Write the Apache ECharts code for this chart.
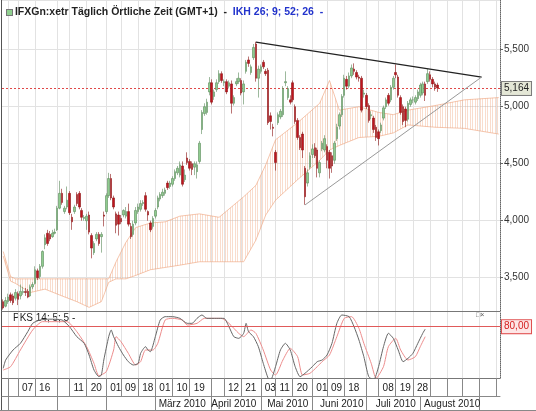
<!DOCTYPE html>
<html>
<head>
<meta charset="utf-8">
<script src="https://cdn.jsdelivr.net/npm/echarts@6/dist/echarts.min.js"></script>
<style>
  html, body { margin: 0; padding: 0; background: #fff; }
  #main { width: 536px; height: 411px; }
</style>
</head>
<body>
<div id="main"></div>
<script>
// Tageskerzen IFX (Xetra): [open, close, low, high]
var candles = [
  [3.29,3.235,3.22,3.31],[3.25,3.30,3.24,3.33],[3.29,3.33,3.27,3.36],[3.35,3.30,3.28,3.37],[3.34,3.28,3.26,3.36],
  [3.32,3.37,3.30,3.40],[3.36,3.31,3.26,3.38],[3.34,3.38,3.31,3.44],[3.37,3.38,3.35,3.42],[3.38,3.37,3.34,3.41],
  [3.38,3.33,3.32,3.40],[3.34,3.42,3.33,3.44],[3.42,3.44,3.40,3.46],[3.45,3.57,3.44,3.60],[3.56,3.50,3.48,3.58],
  [3.51,3.60,3.49,3.62],[3.60,3.73,3.58,3.74],[3.79,3.85,3.75,3.88],[3.89,3.80,3.78,3.92],[3.88,3.84,3.82,3.91],
  [3.86,3.89,3.85,3.92],[3.89,3.90,3.88,3.93],[3.92,4.11,3.91,4.13],[4.11,4.24,4.10,4.35],[4.24,4.16,4.14,4.28],
  [4.08,4.11,4.06,4.13],[4.12,4.18,4.10,4.30],[4.24,4.07,4.05,4.26],[4.03,3.99,3.92,4.06],[4.08,4.12,4.06,4.14],
  [4.23,4.15,4.13,4.25],[4.24,4.12,4.10,4.26],[4.09,4.03,4.00,4.11],[4.02,4.03,4.00,4.05],[4.00,4.04,3.92,4.06],
  [4.05,3.90,3.88,4.08],[3.87,3.76,3.67,3.89],[3.72,3.80,3.70,3.82],[3.84,3.88,3.82,3.90],[3.88,3.80,3.78,3.90],
  [3.86,3.88,3.72,3.90],[4.05,4.04,3.95,4.08],[4.08,4.22,4.06,4.24],[4.22,4.37,4.20,4.42],[4.37,4.20,4.18,4.41],
  [4.20,4.12,4.10,4.22],[4.06,3.96,3.89,4.08],[4.05,3.97,3.87,4.08],[4.02,3.99,3.97,4.05],[4.05,4.09,4.03,4.10],
  [4.04,4.08,4.02,4.12],[4.08,3.97,3.95,4.15],[3.95,3.86,3.84,3.98],[3.88,3.97,3.86,4.00],[3.98,4.09,3.96,4.12],
  [4.08,4.12,4.06,4.15],[4.10,4.15,4.08,4.18],[4.15,4.16,4.13,4.18],[4.22,4.10,4.08,4.25],[4.08,4.05,4.00,4.09],
  [3.98,3.92,3.90,4.00],[3.95,4.02,3.93,4.04],[4.04,4.09,4.02,4.11],[4.12,4.20,4.10,4.22],[4.19,4.23,4.17,4.25],
  [4.22,4.25,4.20,4.28],[4.24,4.27,4.22,4.29],[4.33,4.29,4.27,4.35],[4.30,4.33,4.28,4.35],[4.32,4.37,4.30,4.39],
  [4.37,4.43,4.35,4.45],[4.42,4.46,4.40,4.48],[4.40,4.49,4.38,4.52],[4.48,4.32,4.30,4.52],[4.36,4.40,4.34,4.45],
  [4.55,4.51,4.49,4.60],[4.52,4.46,4.44,4.54],[4.50,4.45,4.40,4.52],[4.47,4.50,4.40,4.52],[4.43,4.49,4.37,4.52],
  [4.52,4.68,4.50,4.70],[4.80,4.95,4.76,4.97],[4.94,5.00,4.92,5.03],[4.95,5.04,4.93,5.07],[5.13,5.21,5.10,5.26],
  [5.21,5.04,5.02,5.24],[5.09,5.13,5.06,5.15],[5.15,5.21,5.13,5.24],[5.22,5.29,5.20,5.32],[5.29,5.23,5.21,5.31],
  [5.21,5.22,5.18,5.24],[5.22,5.13,5.11,5.24],[5.18,5.21,5.16,5.23],[5.20,5.03,4.94,5.23],[5.03,5.08,5.01,5.10],
  [5.20,5.22,5.18,5.25],[5.22,5.25,5.20,5.30],[5.23,5.12,5.10,5.25],[5.13,5.20,5.02,5.23],[5.31,5.39,5.29,5.41],
  [5.41,5.38,5.35,5.44],[5.30,5.35,5.28,5.37],[5.43,5.52,5.41,5.55],[5.55,5.25,5.22,5.57],[5.25,5.33,5.08,5.36],
  [5.31,5.35,5.29,5.37],[5.39,5.35,5.33,5.41],[5.31,5.29,5.27,5.33],[5.32,4.86,4.84,5.34],[4.92,4.87,4.80,4.95],
  [4.82,4.81,4.74,4.85],[4.60,4.51,4.44,4.62],[4.86,4.93,4.84,4.95],[4.91,4.96,4.89,4.98],[4.93,5.16,4.91,5.18],
  [5.21,5.22,5.18,5.31],[5.08,5.16,5.06,5.18],[5.06,5.04,5.02,5.10],[5.21,5.06,5.04,5.23],[5.00,4.87,4.85,5.02],
  [4.88,4.73,4.71,4.90],[4.73,4.64,4.62,4.75],[4.76,4.62,4.55,4.78],[4.46,4.21,4.14,4.48],[4.33,4.42,4.30,4.45],
  [4.47,4.57,4.45,4.60],[4.58,4.63,4.55,4.67],[4.64,4.57,4.55,4.68],[4.62,4.46,4.38,4.64],[4.42,4.51,4.38,4.53],
  [4.63,4.68,4.61,4.70],[4.62,4.72,4.60,4.75],[4.65,4.53,4.46,4.67],[4.60,4.46,4.37,4.62],[4.57,4.48,4.42,4.60],
  [4.53,4.68,4.50,4.70],[4.72,4.82,4.70,4.85],[4.83,4.93,4.80,4.95],[4.93,5.09,4.91,5.11],[5.10,5.25,5.08,5.28],
  [5.24,5.18,5.15,5.27],[5.18,5.27,5.16,5.30],[5.27,5.34,5.25,5.37],[5.33,5.31,5.28,5.38],[5.30,5.26,5.24,5.32],
  [5.26,5.25,5.22,5.28],[5.25,4.97,4.95,5.27],[5.11,5.12,5.08,5.15],[5.10,5.00,4.98,5.12],[5.01,4.88,4.86,5.03],
  [4.92,4.93,4.89,4.96],[4.90,4.80,4.77,4.92],[4.82,4.73,4.70,4.84],[4.78,4.72,4.66,4.80],[4.79,4.84,4.77,4.86],
  [4.90,4.99,4.88,5.01],[5.00,5.06,4.98,5.08],[5.10,5.03,5.01,5.12],[5.06,5.17,5.04,5.19],[5.17,5.25,5.15,5.27],
  [5.30,5.28,5.25,5.37],[5.26,5.10,5.08,5.28],[5.08,4.95,4.93,5.10],[5.00,4.87,4.84,5.02],[4.98,4.88,4.82,5.00],
  [4.89,5.03,4.87,5.05],[5.02,5.06,5.00,5.08],[5.06,5.06,5.03,5.09],[5.04,5.08,5.02,5.10],[5.07,5.13,5.05,5.15],
  [5.10,5.19,5.08,5.21],[5.12,5.20,5.10,5.22],[5.20,5.10,5.05,5.22],[5.22,5.29,5.20,5.33],[5.28,5.24,5.22,5.31],
  [5.24,5.20,5.17,5.26],[5.20,5.17,5.14,5.22],[5.19,5.164,5.13,5.21]
];

// Ichimoku-Wolke (26 Tage vorgezogen), Ober- und Unterkante
var cloudIdx =   [0, 3, 5, 11, 17, 24, 30, 35, 40, 43, 46, 50, 54, 60, 66, 72, 80, 88, 98, 103, 107, 111, 120, 129, 133, 137, 145, 153, 159, 165, 176, 188, 202];
var cloudUpper = [3.73,3.51,3.49,3.49,3.49,3.49,3.49,3.49,3.49,3.49,3.64,3.81,3.94,3.98,3.99,4.04,4.06,4.03,4.21,4.31,4.49,4.71,4.86,5.03,5.23,4.97,5.00,4.95,4.93,4.97,5.01,5.06,5.08];
var cloudLower = [3.69,3.47,3.45,3.37,3.40,3.34,3.29,3.24,3.29,3.46,3.49,3.49,3.52,3.57,3.59,3.61,3.64,3.64,3.64,3.83,4.05,4.18,4.36,4.53,4.62,4.66,4.73,4.74,4.77,4.84,4.82,4.81,4.76];

// Slow Stochastik 14;5;5 : [index, wert]
var stochK = [[0,30],[1,40],[4,52],[7,60],[10,74],[12,84],[15,88],[19,89],[24,88],[27,80],[30,68],[33,60],[35,46],[37,28],[39,20],[40,22],[41,40],[43,68],[44,76],[45,68],[47,56],[49,46],[51,38],[53,34],[55,36],[56,48],[58,56],[59,52],[60,50],[62,68],[64,88],[66,92],[69,92],[72,90],[75,84],[77,84],[79,90],[81,94],[83,90],[87,90],[90,90],[92,80],[94,68],[96,66],[98,72],[99,84],[100,74],[102,68],[104,56],[106,36],[108,18],[109,16],[111,32],[113,52],[115,60],[117,52],[119,32],[121,20],[123,24],[126,32],[128,38],[130,40],[132,46],[134,60],[136,84],[138,94],[141,92],[143,80],[145,64],[147,44],[149,20],[151,16],[153,32],[155,56],[157,72],[159,66],[161,52],[163,38],[165,42],[167,48],[169,60],[171,72],[172,77]];
var stochD = [[0,28],[3,32],[7,52],[12,76],[16,86],[26,86],[30,74],[34,56],[37,36],[39,21],[42,26],[45,52],[46,68],[48,62],[51,48],[54,34],[56,38],[58,52],[61,52],[63,60],[66,88],[69,90],[73,88],[75,82],[79,84],[82,90],[86,90],[89,90],[92,84],[96,72],[98,68],[101,76],[103,72],[106,52],[109,28],[111,22],[114,40],[117,54],[120,44],[122,22],[125,24],[128,32],[130,38],[133,46],[136,68],[139,90],[142,92],[145,78],[147,60],[150,36],[152,18],[155,32],[157,56],[160,66],[162,52],[165,40],[168,44],[170,56],[172,68]];

// Dreieck
var trendTop = [[103, 5.567], [195, 5.26]];
var trendBottom = [[123, 4.138], [195, 5.26]];

var lastPrice = 5.164;
var stochUpper = 80;
var stochMid = 50;

// Achsenbeschriftung
var dayLabels = {6:'07', 13:'16', 27:'11', 34:'20', 42:'01', 48:'09', 55:'18', 62:'01', 69:'10', 76:'19', 90:'12', 97:'21', 105:'03', 111:'11', 118:'20', 126:'01', 132:'09', 139:'18', 153:'08', 160:'19', 167:'28'};
var dayLines = [2, 6, 13, 22, 27, 34, 42, 48, 55, 62, 69, 76, 85, 90, 97, 105, 111, 118, 126, 132, 139, 148, 153, 160, 167, 174, 181, 187, 194, 201];
var monthLabels = {73:'März 2010', 94:'April 2010', 116:'Mai 2010', 138:'Juni 2010', 160:'Juli 2010', 183:'August 2010'};
var monthLines = [2, 22, 42, 62, 85, 105, 126, 148, 170, 194];

// Handelstage Xetra ab 27.11.2009 (inkl. Zukunftsbereich der Wolke)
var holidays = ['2009-12-24', '2009-12-25', '2009-12-31', '2010-01-01', '2010-04-02', '2010-04-05'];
var dates = [];
function pad(n) { return n < 10 ? '0' + n : '' + n; }
var day = new Date(2009, 10, 27);
while (dates.length < 203) {
  var wd = day.getDay();
  var key = day.getFullYear() + '-' + pad(day.getMonth() + 1) + '-' + pad(day.getDate());
  if (wd !== 0 && wd !== 6 && holidays.indexOf(key) < 0) dates.push(key);
  day.setDate(day.getDate() + 1);
}

var font = '"Liberation Sans", Arial, sans-serif';

// Schraffur der Wolke
var hatchCanvas = document.createElement('canvas');
hatchCanvas.width = 5;
hatchCanvas.height = 2;
var hctx = hatchCanvas.getContext('2d');
hctx.fillStyle = 'rgba(240,165,125,0.38)';
hctx.fillRect(0, 0, 1, 2);
hctx.fillRect(2, 0, 1, 2);

var cloudData = cloudIdx.map(function (x, k) { return [x, cloudUpper[k], cloudLower[k]]; });
var lineSet = {};
dayLines.forEach(function (i) { lineSet[i] = true; });
var monthSet = {};
monthLines.forEach(function (i) { monthSet[i] = true; });

var myChart = echarts.init(document.getElementById('main'), null, { renderer: 'canvas' });

var option = {
  animation: false,
  backgroundColor: '#fff',
  textStyle: { fontFamily: font },
  title: {
    left: 2, top: 2,
    text: '{i|}{a| IFXGn:xetr Täglich Örtliche Zeit (GMT+1)  -  }{b|IKH 26; 9; 52; 26  -}',
    textStyle: {
      rich: {
        i: { width: 5, height: 5, backgroundColor: '#8fd08f', borderColor: '#777', borderWidth: 1 },
        a: { fontSize: 10.5, color: '#222', fontFamily: font },
        b: { fontSize: 10.5, color: '#2233cc', fontFamily: font }
      }
    }
  },
  grid: [
    { left: 2, right: 36, top: 0, height: 311 },
    { left: 2, right: 36, top: 312, height: 66 }
  ],
  xAxis: [
    {
      type: 'category', gridIndex: 0, data: dates, boundaryGap: true,
      axisLine: { show: true, lineStyle: { color: '#777' } },
      axisTick: { show: false },
      axisLabel: { show: false },
      splitLine: { show: true, alignWithLabel: true, interval: function (i) { return !!lineSet[i]; }, lineStyle: { color: '#e2e2e2' } }
    },
    {
      type: 'category', gridIndex: 1, data: dates, boundaryGap: true, position: 'bottom',
      axisLine: { show: true, lineStyle: { color: '#777' } },
      axisTick: { show: true, alignWithLabel: true, length: 18, interval: function (i) { return !!lineSet[i]; }, lineStyle: { color: '#888' } },
      axisLabel: {
        show: true, interval: function (i) { return dayLabels[i] !== undefined; },
        formatter: function (v, i) { return dayLabels[i] || ''; },
        align: 'left', padding: [0, 0, 0, 4], margin: 5, fontSize: 10, color: '#222', fontFamily: font
      },
      splitLine: { show: true, alignWithLabel: true, interval: function (i) { return !!lineSet[i]; }, lineStyle: { color: '#e2e2e2' } }
    },
    {
      type: 'category', gridIndex: 1, data: dates, boundaryGap: true, position: 'bottom', offset: 18,
      axisLine: { show: true, lineStyle: { color: '#888' } },
      axisTick: { show: true, alignWithLabel: true, length: 14, interval: function (i) { return !!monthSet[i]; }, lineStyle: { color: '#888' } },
      axisLabel: {
        show: true, interval: function (i) { return monthLabels[i] !== undefined; },
        formatter: function (v, i) { return monthLabels[i] || ''; },
        margin: 3, fontSize: 10, color: '#222', fontFamily: font
      },
      splitLine: { show: false }
    }
  ],
  yAxis: [
    {
      type: 'value', gridIndex: 0, position: 'right', scale: true,
      min: 3.208, max: 5.936, minInterval: 0.5, maxInterval: 0.5,
      axisLine: { show: true, lineStyle: { color: '#666', type: 'dotted' } },
      axisTick: { show: true, length: 3, lineStyle: { color: '#666' } },
      axisLabel: {
        showMinLabel: false, showMaxLabel: false, margin: 4, fontSize: 10, color: '#333', fontFamily: font,
        formatter: function (v) { return v.toFixed(3).replace('.', ','); }
      },
      splitLine: { show: true, lineStyle: { color: '#e2e2e2' } }
    },
    {
      type: 'value', gridIndex: 1, position: 'right', min: 18.4, max: 97.6,
      axisLine: { show: true, lineStyle: { color: '#666', type: 'dotted' } },
      axisTick: { show: false },
      axisLabel: { show: false },
      splitLine: { show: false }
    }
  ],
  series: [
    {
      name: 'Wolke', type: 'custom', xAxisIndex: 0, yAxisIndex: 0, z: 1, silent: true,
      data: cloudData,
      encode: { x: 0, y: [1, 2] },
      renderItem: function (params, api) {
        if (params.dataIndex !== 0) return null;
        var pts = [];
        for (var k = 0; k < cloudIdx.length; k++) pts.push(api.coord([cloudIdx[k], cloudUpper[k]]));
        for (var j = cloudIdx.length - 1; j >= 0; j--) pts.push(api.coord([cloudIdx[j], cloudLower[j]]));
        return { type: 'polygon', shape: { points: pts }, style: { fill: { image: hatchCanvas, repeat: 'repeat' } } };
      }
    },
    {
      name: 'Span oben', type: 'line', xAxisIndex: 0, yAxisIndex: 0, z: 2, silent: true, symbol: 'none',
      data: cloudIdx.map(function (x, k) { return [x, cloudUpper[k]]; }),
      lineStyle: { color: 'rgba(238,160,120,0.6)', width: 1 }
    },
    {
      name: 'Span unten', type: 'line', xAxisIndex: 0, yAxisIndex: 0, z: 2, silent: true, symbol: 'none',
      data: cloudIdx.map(function (x, k) { return [x, cloudLower[k]]; }),
      lineStyle: { color: 'rgba(238,160,120,0.6)', width: 1 }
    },
    {
      name: 'IFX', type: 'candlestick', xAxisIndex: 0, yAxisIndex: 0, z: 5,
      data: candles, barWidth: 2,
      itemStyle: { color: '#8fcc8f', color0: '#c0141e', borderColor: '#5b8a5b', borderColor0: '#8c1414', borderWidth: 0.6 },
      markLine: {
        silent: true, symbol: 'none', animation: false,
        lineStyle: { color: '#e04848', type: [2, 2], width: 1 },
        label: {
          position: 'end', distance: 2, formatter: '5,164', fontSize: 10, color: '#222', fontFamily: font,
          backgroundColor: '#e4e7d6', borderColor: '#7c7c7c', borderWidth: 1, padding: [2, 2, 1, 2]
        },
        data: [{ yAxis: lastPrice }]
      }
    },
    {
      name: 'Trend oben', type: 'line', xAxisIndex: 0, yAxisIndex: 0, z: 6, silent: true, symbol: 'none',
      data: trendTop, lineStyle: { color: '#222', width: 1.2 }
    },
    {
      name: 'Trend unten', type: 'line', xAxisIndex: 0, yAxisIndex: 0, z: 6, silent: true, symbol: 'none',
      data: trendBottom, lineStyle: { color: '#999', width: 1 }
    },
    {
      name: '%K', type: 'line', xAxisIndex: 1, yAxisIndex: 1, z: 4, silent: true, symbol: 'none', smooth: 0.2,
      data: stochK, lineStyle: { color: '#666', width: 1 },
      markLine: {
        silent: true, symbol: 'none', animation: false,
        data: [
          {
            yAxis: stochUpper,
            lineStyle: { color: '#e05a5a', type: 'solid', width: 1 },
            label: {
              position: 'end', distance: 2, formatter: '80,00', fontSize: 10, color: '#d42020', fontFamily: font,
              backgroundColor: '#fde6e6', borderColor: '#e05050', borderWidth: 1, padding: [2, 2, 1, 2]
            }
          },
          {
            yAxis: stochMid,
            lineStyle: { opacity: 0 },
            label: { position: 'end', distance: 4, formatter: '50,00', fontSize: 10, color: '#333', fontFamily: font }
          }
        ]
      }
    },
    {
      name: '%D', type: 'line', xAxisIndex: 1, yAxisIndex: 1, z: 3, silent: true, symbol: 'none', smooth: 0.2,
      data: stochD, lineStyle: { color: '#ec8c8c', width: 1 }
    }
  ],
  graphic: [
    { type: 'line', shape: { x1: 1.5, y1: 0, x2: 1.5, y2: 411 }, style: { stroke: '#555', lineWidth: 1 }, silent: true },
    { type: 'line', shape: { x1: 0, y1: 410.5, x2: 536, y2: 410.5 }, style: { stroke: '#888', lineWidth: 1 }, silent: true },
    { type: 'text', left: 13, top: 313, style: { text: 'PKS 14; 5; 5 -', fontSize: 10, fill: '#222', fontFamily: font }, silent: true },
    { type: 'text', left: 476, top: 312, style: { text: '□×', fontSize: 7, fill: '#555', fontFamily: font }, silent: true }
  ]
};

myChart.setOption(option);
</script>
</body>
</html>
